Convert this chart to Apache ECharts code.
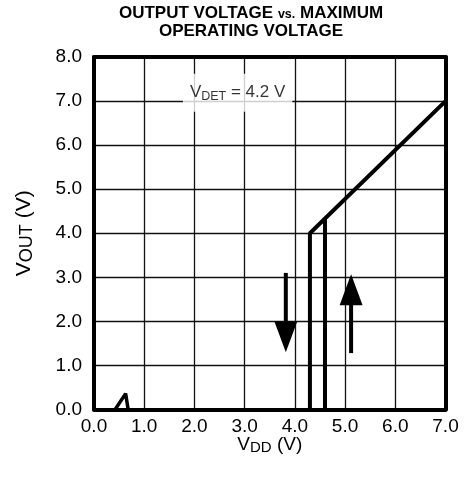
<!DOCTYPE html>
<html>
<head>
<meta charset="utf-8">
<script src="https://cdn.jsdelivr.net/npm/echarts@6/dist/echarts.min.js"></script>
<style>html,body{margin:0;padding:0;background:#fff;}#c{width:469px;height:482px;}</style>
</head>
<body>
<div id="c"></div>
<script>
// ---- data ----
const xTicks = [0, 1, 2, 3, 4, 5, 6, 7];
const yTicks = [0, 1, 2, 3, 4, 5, 6, 7, 8];
// small start-up glitch near VDD = 0.6 V
const glitchX = [0.42, 0.63, 0.68];
const glitchY = [0, 0.36, 0];
// falling-VDD branch (detect at ~4.3 V)
const fallX = [4.3, 4.3, 7.0];
const fallY = [0, 4.0, 7.0];
// rising-VDD branch (release at ~4.6 V)
const riseX = [4.6, 4.6];
const riseY = [0, 4.33];
// direction arrows: x, start y, tip y
const arrowX = [3.82, 5.12];
const arrowFrom = [3.1, 1.28];
const arrowTo = [1.3, 3.07];
// annotation
const noteX = 2.86, noteY = 7.19;
const noteText = '{v|V}{s|DET}{v| = 4.2 V}';

const toPairs = (xs, ys) => xs.map((x, i) => [x, ys[i]]);
const FONT = '"Liberation Sans", Arial, Helvetica, sans-serif';

const chart = echarts.init(document.getElementById('c'), null, {renderer: 'canvas'});
const axisCommon = {
  axisTick: {show: false},
  axisLine: {show: true, onZero: false, lineStyle: {color: '#000', width: 4}},
  splitLine: {show: true, lineStyle: {color: '#111', width: 1.3}},
};
const frameAxis = {
  axisTick: {show: false}, axisLabel: {show: false}, splitLine: {show: false},
  axisLine: {show: true, onZero: false, lineStyle: {color: '#000', width: 4}}
};
const yNameStyle = {color: '#000', fontFamily: FONT, fontSize: 21,
  rich: {s: {fontFamily: FONT, fontSize: 18, color: '#000', padding: [5, 0, 0, 0]}}};
const xNameStyle = {color: '#000', fontFamily: FONT, fontSize: 19,
  rich: {s: {fontFamily: FONT, fontSize: 15, color: '#000', padding: [6, 0, 0, 0]}}};
chart.setOption({
  animation: false,
  backgroundColor: '#fff',
  title: {
    text: 'OUTPUT VOLTAGE {s|vs.} MAXIMUM\nOPERATING VOLTAGE',
    left: 246, top: -1, textAlign: 'center',
    textStyle: {
      fontFamily: FONT, fontWeight: 'bold', fontSize: 17, color: '#000', lineHeight: 18,
      rich: {s: {fontFamily: FONT, fontWeight: 'bold', fontSize: 12.5, color: '#000', padding: [3, 0, 0, 0]}}
    }
  },
  grid: {left: 94, right: 23.5, top: 57, bottom: 72.5, show: false},
  xAxis: [{
    type: 'value', min: xTicks[0], max: xTicks[xTicks.length - 1], interval: 1,
    ...axisCommon,
    axisLabel: {color: '#000', fontFamily: FONT, fontSize: 19, margin: 8,
      formatter: v => v.toFixed(1)},
    name: 'V{s|DD} (V)', nameLocation: 'middle', nameGap: 25, nameMoveOverlap: false,
    nameTextStyle: xNameStyle
  }, {
    type: 'value', position: 'top', min: xTicks[0], max: xTicks[xTicks.length - 1], interval: 1,
    ...frameAxis
  }],
  yAxis: [{
    type: 'value', min: yTicks[0], max: yTicks[yTicks.length - 1], interval: 1,
    ...axisCommon,
    axisLabel: {color: '#000', fontFamily: FONT, fontSize: 19, margin: 12,
      formatter: v => v.toFixed(1)},
    name: 'V{s|OUT} (V)', nameLocation: 'middle', nameGap: 58, nameRotate: 90, nameMoveOverlap: false,
    nameTextStyle: yNameStyle
  }, {
    type: 'value', position: 'right', min: yTicks[0], max: yTicks[yTicks.length - 1], interval: 1,
    ...frameAxis
  }],
  series: [
    {type: 'line', data: toPairs(glitchX, glitchY), symbol: 'none',
      lineStyle: {color: '#000', width: 3.5}, z: 3},
    {type: 'line', data: toPairs(fallX, fallY), symbol: 'none',
      lineStyle: {color: '#000', width: 4}, z: 3},
    {type: 'line', data: toPairs(riseX, riseY), symbol: 'none',
      lineStyle: {color: '#000', width: 4}, z: 3},
    {type: 'custom', z: 4,
      data: arrowX.map((x, i) => [x, arrowFrom[i], arrowTo[i]]),
      renderItem: function (params, api) {
        const p0 = api.coord([api.value(0), api.value(1)]);
        const p1 = api.coord([api.value(0), api.value(2)]);
        const dir = p1[1] > p0[1] ? 1 : -1;
        const headLen = 31, headW = 11.5;
        const base = p1[1] - dir * headLen;
        return {type: 'group', children: [
          {type: 'line', shape: {x1: p0[0], y1: p0[1], x2: p1[0], y2: base + dir * 2},
            style: {stroke: '#000', lineWidth: 4}},
          {type: 'polygon', shape: {points: [[p1[0], p1[1]], [p1[0] - headW, base], [p1[0] + headW, base]]},
            style: {fill: '#000'}}
        ]};
      }
    },
    {type: 'scatter', z: 5, symbolSize: 0, data: [[noteX, noteY]],
      label: {show: true, position: 'inside', formatter: noteText,
        backgroundColor: '#fff', padding: [9, 7, 9, 7],
        rich: {
          v: {fontFamily: FONT, fontSize: 17, color: '#000'},
          s: {fontFamily: FONT, fontSize: 12.5, color: '#000', padding: [7, 0, 0, 0]}
        }}
    }
  ]
});
</script>
</body>
</html>
